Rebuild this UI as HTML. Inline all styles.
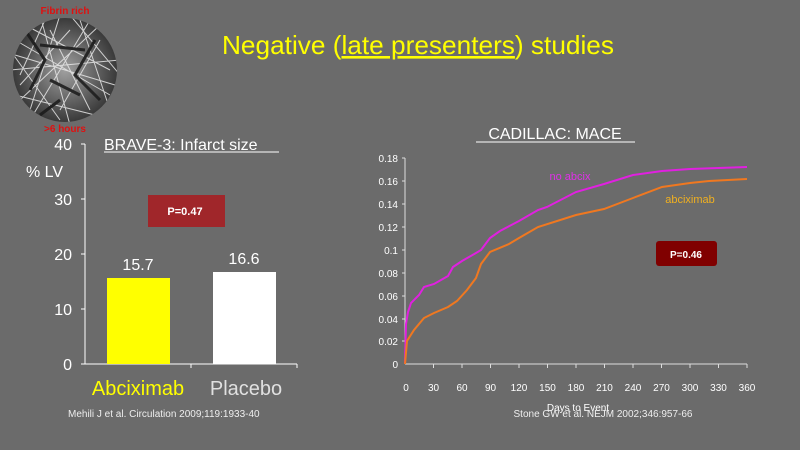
<!DOCTYPE html>
<html><head><meta charset="utf-8"><style>
body{margin:0;width:800px;height:450px;background:#6b6b6b;overflow:hidden}
svg{display:block;font-family:"Liberation Sans",Arial,sans-serif}
</style></head><body>
<svg width="800" height="450" viewBox="0 0 800 450">
<rect width="800" height="450" fill="#6b6b6b"/>
<defs><radialGradient id="g" cx="50%" cy="50%" r="50%"><stop offset="0" stop-color="#a0a0a0"/><stop offset="1" stop-color="#3a3a3a"/></radialGradient>
<clipPath id="c"><circle cx="65" cy="70" r="52"/></clipPath></defs>
<circle cx="65" cy="70" r="52" fill="url(#g)"/>
<g clip-path="url(#c)" stroke="#e8e8e8" stroke-width="1" fill="none" opacity="0.85">
<path d="M15 40 L110 95 M20 100 L100 25 M40 15 L70 125 M10 70 L120 60 M30 120 L90 20 M60 15 L30 110 M90 110 L50 30 M15 55 L115 85 M80 20 L110 110 M20 85 L70 30 M10 50 L60 120 M70 15 L120 75 M25 25 L110 70 M15 95 L95 115 M45 20 L20 75 M100 40 L60 110"/>
<path d="M25 30 L45 60 L30 90 M95 40 L75 75 L100 100 M50 80 L80 95 M40 45 L85 50 M60 100 L40 115" stroke="#1a1a1a" stroke-width="3"/>
</g>
<text x="65" y="14" fill="#e01010" font-size="10" font-weight="bold" text-anchor="middle">Fibrin rich</text>
<text x="65" y="132" fill="#e01010" font-size="10" font-weight="bold" text-anchor="middle">&gt;6 hours</text>
<text x="418" y="54" fill="#ffff00" font-size="26" text-anchor="middle" textLength="392" lengthAdjust="spacingAndGlyphs">Negative (<tspan text-decoration="underline">late presenters</tspan>) studies</text>
<text x="104" y="150" fill="#fff" font-size="16">BRAVE-3: Infarct size</text>
<line x1="104" y1="152" x2="279" y2="152" stroke="#fff" stroke-width="1"/>
<g stroke="#fff" stroke-width="1"><line x1="85" y1="144" x2="85" y2="364"/><line x1="85" y1="364" x2="297" y2="364"/>
<line x1="81" y1="144" x2="85" y2="144"/><line x1="81" y1="199" x2="85" y2="199"/><line x1="81" y1="254" x2="85" y2="254"/><line x1="81" y1="309" x2="85" y2="309"/><line x1="81" y1="364" x2="85" y2="364"/>
<line x1="191" y1="364" x2="191" y2="368"/><line x1="297" y1="364" x2="297" y2="368"/></g>
<g fill="#fff" font-size="16" text-anchor="end"><text x="72" y="150">40</text><text x="72" y="205">30</text><text x="72" y="260">20</text><text x="72" y="315">10</text><text x="72" y="370">0</text></g>
<text x="26" y="177" fill="#fff" font-size="16">% LV</text>
<rect x="107" y="278" width="63" height="86" fill="#ffff00"/>
<rect x="213" y="272" width="63" height="92" fill="#fff"/>
<text x="138" y="270" fill="#fff" font-size="16" text-anchor="middle">15.7</text>
<text x="244" y="264" fill="#fff" font-size="16" text-anchor="middle">16.6</text>
<rect x="148" y="195" width="77" height="32" fill="#a0262a"/>
<text x="185" y="215" fill="#fff" font-size="11" font-weight="bold" text-anchor="middle">P=0.47</text>
<text x="138" y="395" fill="#ffff00" font-size="20" text-anchor="middle">Abciximab</text>
<text x="246" y="395" fill="#e0e0e0" font-size="20" text-anchor="middle">Placebo</text>
<text x="68" y="417" fill="#eee" font-size="10">Mehili J et al. Circulation 2009;119:1933-40</text>
<text x="555" y="139" fill="#fff" font-size="16" text-anchor="middle">CADILLAC: MACE</text>
<line x1="476" y1="142" x2="635" y2="142" stroke="#fff"/>
<g stroke="#ddd" stroke-width="1"><line x1="405" y1="158" x2="405" y2="364"/><line x1="405" y1="364" x2="747" y2="364"/></g>
<g stroke="#ddd">
<line x1="402" y1="158" x2="405" y2="158"/><line x1="402" y1="181" x2="405" y2="181"/><line x1="402" y1="204" x2="405" y2="204"/><line x1="402" y1="227" x2="405" y2="227"/><line x1="402" y1="250" x2="405" y2="250"/><line x1="402" y1="273" x2="405" y2="273"/><line x1="402" y1="296" x2="405" y2="296"/><line x1="402" y1="319" x2="405" y2="319"/><line x1="402" y1="341" x2="405" y2="341"/>
<line x1="433.5" y1="364" x2="433.5" y2="368"/><line x1="462" y1="364" x2="462" y2="368"/><line x1="490.5" y1="364" x2="490.5" y2="368"/><line x1="519" y1="364" x2="519" y2="368"/><line x1="547.5" y1="364" x2="547.5" y2="368"/><line x1="576" y1="364" x2="576" y2="368"/><line x1="604.5" y1="364" x2="604.5" y2="368"/><line x1="633" y1="364" x2="633" y2="368"/><line x1="661.5" y1="364" x2="661.5" y2="368"/><line x1="690" y1="364" x2="690" y2="368"/><line x1="718.5" y1="364" x2="718.5" y2="368"/><line x1="747" y1="364" x2="747" y2="368"/></g>
<g fill="#fff" font-size="10" text-anchor="end"><text x="398" y="162">0.18</text><text x="398" y="185">0.16</text><text x="398" y="208">0.14</text><text x="398" y="231">0.12</text><text x="398" y="254">0.1</text><text x="398" y="277">0.08</text><text x="398" y="300">0.06</text><text x="398" y="323">0.04</text><text x="398" y="345">0.02</text><text x="398" y="368">0</text></g>
<g fill="#fff" font-size="10" text-anchor="middle"><text x="406" y="391">0</text><text x="433.5" y="391">30</text><text x="462" y="391">60</text><text x="490.5" y="391">90</text><text x="519" y="391">120</text><text x="547.5" y="391">150</text><text x="576" y="391">180</text><text x="604.5" y="391">210</text><text x="633" y="391">240</text><text x="661.5" y="391">270</text><text x="690" y="391">300</text><text x="718.5" y="391">330</text><text x="747" y="391">360</text></g>
<text x="578" y="411" fill="#fff" font-size="10" text-anchor="middle">Days to Event</text>
<text x="603" y="417" fill="#eee" font-size="10" text-anchor="middle">Stone GW et al. NEJM 2002;346:957-66</text>
<polyline fill="none" stroke="#e020e0" stroke-width="2" points="405,364 406,324 408,312 411,303 419,295 424,287 434,284 448,276 453,267 462,261 476,253 481,250 490,238 500,231 519,221 538,210 547,207 576,192 604,184 633,175 662,171 690,169 747,167"/>
<polyline fill="none" stroke="#f07820" stroke-width="2" points="405,364 407,341 414,330 424,318 434,313 448,307 457,301 467,290 476,278 481,264 490,252 509,244 519,238 538,227 576,215 604,209 633,198 662,187 690,183 709,181 747,179"/>
<text x="570" y="180" fill="#e030e8" font-size="11" text-anchor="middle">no abcix</text>
<text x="690" y="203" fill="#f0b020" font-size="11" text-anchor="middle">abciximab</text>
<rect x="656" y="241" width="61" height="25" rx="3" fill="#800000"/>
<text x="686" y="258" fill="#fff" font-size="10" font-weight="bold" text-anchor="middle">P=0.46</text>
</svg>
</body></html>
